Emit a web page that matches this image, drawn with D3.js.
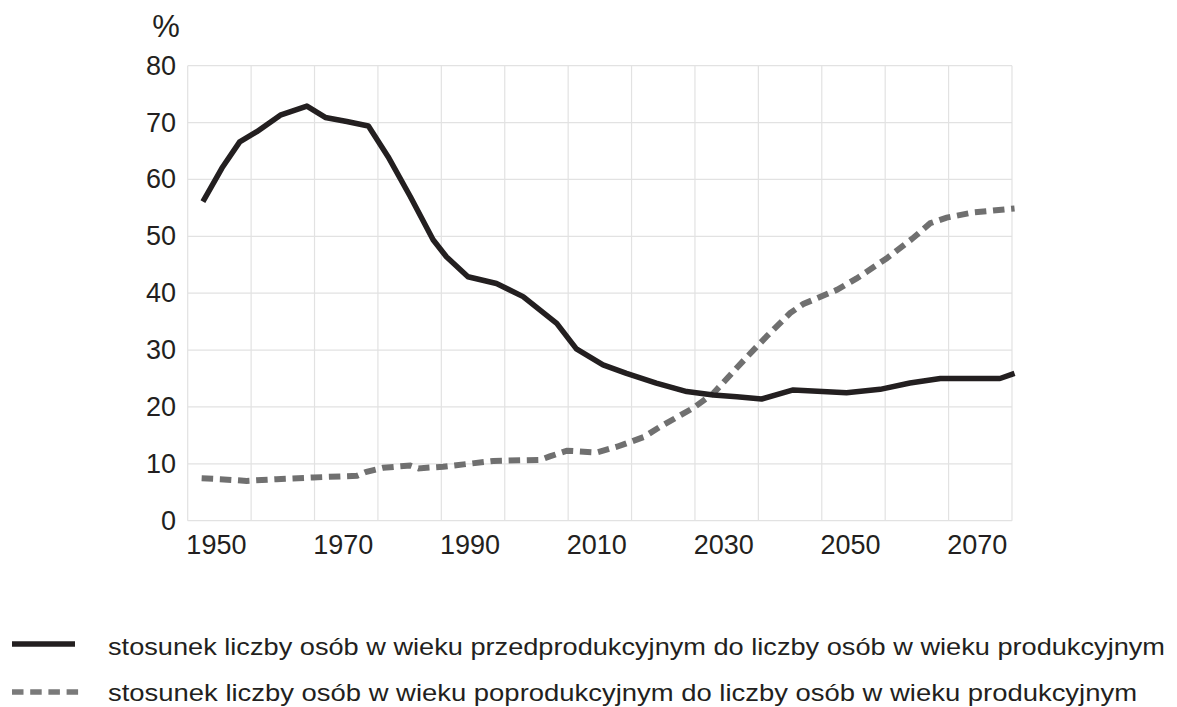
<!DOCTYPE html>
<html lang="pl">
<head>
<meta charset="UTF-8">
<title>Stosunek liczby osób</title>
<script src="https://d3js.org/d3.v7.min.js"></script>
<style>
  body { margin: 0; background: #fff; }
  svg text { font-family: "Liberation Sans", Arial, sans-serif; fill: #231f20; }
</style>
</head>
<body>
<svg id="chart" width="1177" height="707"></svg>
<script>
// years and values
var preYears = [1947.4, 1950.4, 1953.2, 1955.9, 1959.6, 1963.8, 1966.7, 1970.1, 1973.5, 1976.6,
  1980.1, 1983.7, 1985.8, 1989.2, 1993.7, 1997.9, 2003.2, 2006.3, 2010.5, 2014.2,
  2018.9, 2023.7, 2027.9, 2031.6, 2035.5, 2040.5, 2048.9, 2054.2, 2058.9, 2063.7,
  2073.1, 2075.4];
var preValues = [56.1, 62.0, 66.6, 68.4, 71.3, 72.9, 70.9, 70.2, 69.4, 64.0,
  57.0, 49.4, 46.4, 42.9, 41.7, 39.4, 34.7, 30.2, 27.4, 25.9,
  24.2, 22.7, 22.1, 21.8, 21.4, 23.0, 22.5, 23.1, 24.2, 25.0,
  25.0, 25.9];

var postYears = [1947.2, 1950.1, 1954.3, 1959.0, 1964.8, 1971.7, 1973.2, 1975.8, 1980.1, 1981.4,
  1985.3, 1993.2, 2000.6, 2002.1, 2004.8, 2009.5, 2012.7, 2016.9, 2019.5, 2024.7,
  2027.9, 2033.2, 2036.3, 2040.0, 2042.1, 2047.4, 2050.5, 2055.2, 2059.4, 2062.1,
  2064.7, 2068.9, 2075.4];
var postValues = [7.45, 7.3, 7.0, 7.3, 7.6, 7.9, 8.6, 9.3, 9.7, 9.2,
  9.5, 10.5, 10.7, 11.3, 12.3, 12.0, 13.0, 14.7, 16.5, 19.8,
  22.4, 28.8, 32.4, 36.5, 38.1, 40.6, 42.6, 46.1, 49.7, 52.3,
  53.3, 54.2, 54.9];

var xTickLabels = [1950, 1970, 1990, 2010, 2030, 2050, 2070];
var xGridYears = d3.range(1945, 2076, 10);
var yTickLabels = [0, 10, 20, 30, 40, 50, 60, 70, 80];

var legendLabels = [
  "stosunek liczby osób w wieku przedprodukcyjnym do liczby osób w wieku produkcyjnym",
  "stosunek liczby osób w wieku poprodukcyjnym do liczby osób w wieku produkcyjnym"
];

var svg = d3.select("#chart");

var x = d3.scaleLinear().domain([1945, 2075]).range([187.7, 1012]);
var y = d3.scaleLinear().domain([0, 80]).range([520.7, 65.7]);

// grid
var grid = svg.append("g").attr("stroke", "#e2e2e2").attr("stroke-width", 1.2);
grid.selectAll("line.h")
  .data(yTickLabels)
  .enter().append("line")
    .attr("class", "h")
    .attr("x1", x(1945)).attr("x2", x(2075))
    .attr("y1", d => y(d)).attr("y2", d => y(d));
grid.selectAll("line.v")
  .data(xGridYears)
  .enter().append("line")
    .attr("class", "v")
    .attr("x1", d => x(d)).attr("x2", d => x(d))
    .attr("y1", y(80)).attr("y2", y(0));

// y labels
svg.append("g")
  .selectAll("text")
  .data(yTickLabels)
  .enter().append("text")
    .attr("x", 176)
    .attr("y", d => y(d) + 9)
    .attr("text-anchor", "end")
    .style("font-size", "27px")
    .text(d => d);

svg.append("text")
  .attr("x", 166)
  .attr("y", 37)
  .attr("text-anchor", "middle")
  .style("font-size", "31px")
  .text("%");

// x labels
svg.append("g")
  .selectAll("text")
  .data(xTickLabels)
  .enter().append("text")
    .attr("x", d => x(d) - 3)
    .attr("y", 554)
    .attr("text-anchor", "middle")
    .style("font-size", "27px")
    .text(d => d);

var line = d3.line()
  .x(d => x(d[0]))
  .y(d => y(d[1]));

svg.append("path")
  .datum(d3.zip(postYears, postValues))
  .attr("d", line)
  .attr("fill", "none")
  .attr("stroke", "#707070")
  .attr("stroke-width", 6)
  .attr("stroke-dasharray", "11.5,6.7");

svg.append("path")
  .datum(d3.zip(preYears, preValues))
  .attr("d", line)
  .attr("fill", "none")
  .attr("stroke", "#231f20")
  .attr("stroke-width", 5.5)
  .attr("stroke-linejoin", "round");

// legend
svg.append("line")
  .attr("x1", 12).attr("x2", 75)
  .attr("y1", 644).attr("y2", 644)
  .attr("stroke", "#231f20")
  .attr("stroke-width", 5.5);
svg.append("line")
  .attr("x1", 12).attr("x2", 79)
  .attr("y1", 692).attr("y2", 692)
  .attr("stroke", "#7a7a7a")
  .attr("stroke-width", 5.5)
  .attr("stroke-dasharray", "11.5,6.7");

svg.append("text")
  .attr("x", 108).attr("y", 655)
  .attr("textLength", 1057)
  .attr("lengthAdjust", "spacingAndGlyphs")
  .style("font-size", "24px")
  .text(legendLabels[0]);
svg.append("text")
  .attr("x", 108).attr("y", 701)
  .attr("textLength", 1029)
  .attr("lengthAdjust", "spacingAndGlyphs")
  .style("font-size", "24px")
  .text(legendLabels[1]);
</script>
</body>
</html>
